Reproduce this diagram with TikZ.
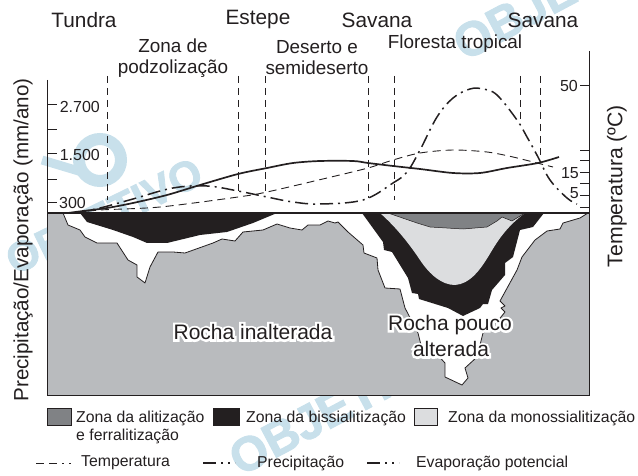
\documentclass[tikz,border=0pt]{standalone}
\usepackage{fontspec}
\setmainfont{Liberation Sans}
\newfontface\halofont[FakeBold=22]{Liberation Sans}
\newfontface\wmfont[FakeBold=2]{Liberation Sans Bold}
\definecolor{ink}{HTML}{231F20}
\definecolor{rock}{HTML}{B9BBBE}
\definecolor{lightz}{HTML}{DCDDDF}
\definecolor{darkz}{HTML}{808285}
\definecolor{wmark}{HTML}{C8E0EB}
\tikzset{
  lab/.style={text=ink,inner sep=0pt,font=\fontsize{20.8}{22}\selectfont},
  sublab/.style={text=ink,inner sep=0pt,align=center,font=\fontsize{18.9}{21}\selectfont},
  ticklab/.style={text=ink,inner sep=0pt,font=\fontsize{16}{18}\selectfont},
  leglab/.style={text=ink,inner sep=0pt,anchor=west,align=left,font=\fontsize{15.8}{18}\selectfont},
  axislab/.style={text=ink,inner sep=0pt,rotate=90,font=\fontsize{20.6}{22}\selectfont},
  axislabb/.style={text=ink,inner sep=0pt,rotate=90,font=\fontsize{21.2}{22}\selectfont},
  rocklab/.style={text=ink,inner sep=0pt,font=\fontsize{21}{26}\selectfont},
  rockhalo/.style={text=white,inner sep=0pt,font=\fontsize{21}{26}\selectfont\halofont},
  zonebound/.style={draw=ink,line width=0.8pt,line join=round},
  zoneline/.style={dash pattern=on 7pt off 5pt,draw=ink,line width=0.9pt},
  tempcurve/.style={dash pattern=on 8pt off 5pt,draw=ink,line width=0.9pt},
  raincurve/.style={dash pattern=on 13pt off 5pt on 2pt off 5pt,draw=ink,line width=1.5pt},
  solidcurve/.style={draw=ink,line width=1.7pt},
  tick/.style={draw=ink,line width=1pt},
  swatch/.style={draw=ink,line width=0.6pt,minimum height=17pt,inner sep=0pt},
  wm/.style={text=wmark,inner sep=0pt,rotate=28,font=\fontsize{48}{48}\wmfont},
  wmsmall/.style={text=wmark,inner sep=0pt,rotate=26,font=\fontsize{42}{42}\wmfont},
}
\begin{document}
\begin{tikzpicture}[x=1pt,y=-1pt]
\useasboundingbox (0,0) rectangle (638,476);
\clip (0,0) rectangle (638,476);
% watermarks
\node[wm] (wmtop) at (564,-10) {OBJETIVO};
\node[wmsmall] (wmmid) at (104,216) {OBJETIVO};
\node[wm] (wmbot) at (340,405) {OBJETIVO};
\draw[wmark,line width=12pt] (100,160) circle (21);
\draw[wmark,line width=9pt] (42,160) -- (82,172);
% ground
\fill[rock,draw=ink,line width=1pt] (47,213) rectangle (589,395);
\fill[white] (63,213) -- (68,225) -- (80,230) -- (85,237) -- (97,243) -- (117,243) -- (128,260) -- (137,265) -- (137,277) -- (145,283) -- (150,267) -- (158,252) -- (173,252) -- (185,253) -- (213,243) -- (222,239) -- (235,241) -- (243,232) -- (263,230) -- (277,224) -- (290,228) -- (302,230) -- (308,225) -- (320,225) -- (328,221) -- (335,223) -- (338,222) -- (348,232) -- (363,245) -- (364,253) -- (377,258) -- (378,270) -- (385,288) -- (400,289) -- (405,308) -- (418,333) -- (421,345) -- (433,350) -- (445,363) -- (445,377) -- (462,385) -- (468,378) -- (465,368) -- (477,357) -- (483,333) -- (497,322) -- (505,312) -- (501,308) -- (505,306) -- (500,301) -- (517,270) -- (522,257) -- (535,240) -- (547,231) -- (560,229) -- (563,223) -- (580,218) -- (588,213) -- cycle;
\draw[zonebound] (63,213) -- (68,225) -- (80,230) -- (85,237) -- (97,243) -- (117,243) -- (128,260) -- (137,265) -- (137,277) -- (145,283) -- (150,267) -- (158,252) -- (173,252) -- (185,253) -- (213,243) -- (222,239) -- (235,241) -- (243,232) -- (263,230) -- (277,224) -- (290,228) -- (302,230) -- (308,225) -- (320,225) -- (328,221) -- (335,223) -- (338,222) -- (348,232) -- (363,245) -- (364,253) -- (377,258) -- (378,270) -- (385,288) -- (400,289) -- (405,308) -- (418,333) -- (421,345) -- (433,350) -- (445,363) -- (445,377) -- (462,385) -- (468,378) -- (465,368) -- (477,357) -- (483,333) -- (497,322) -- (505,312) -- (501,308) -- (505,306) -- (500,301) -- (517,270) -- (522,257) -- (535,240) -- (547,231) -- (560,229) -- (563,223) -- (580,218) -- (588,213);
% black zones
\fill[ink] (80,213) -- (87,222) -- (113,230) -- (133,237) -- (147,243) -- (167,243) -- (200,235) -- (227,232) -- (253,223) -- (277,213) -- cycle;
\fill[ink] (362,213) -- (383,242) -- (384,250) -- (392,252) -- (408,278) -- (412,293) -- (418,294) -- (419,299) -- (448,308) -- (463,316) -- (480,308) -- (483,304) -- (488,304) -- (492,290) -- (505,275) -- (505,263) -- (513,257) -- (520,230) -- (533,227) -- (544,213) -- cycle;
\fill[lightz] (380,213) .. controls (397,228) and (410,245) .. (420,260) .. controls (430,275) and (442,285) .. (455,285) .. controls (470,284) and (480,270) .. (488,257) .. controls (497,242) and (505,228) .. (525,213) -- cycle;
\fill[darkz,draw=ink,line width=0.5pt] (388,213) -- (417,223) -- (430,227) -- (463,229) -- (487,227) -- (497,221) -- (502,217) -- (512,221) -- (525,213) -- cycle;
\draw[ink,line width=1.2pt] (47,213) -- (589,213);
% axes
\draw[tick] (47,80) -- (47,213);
\draw[tick] (589,51) -- (589,213);
\foreach \yy in {105,130,154,180,203} \draw[tick] (47,\yy) -- (57,\yy);
\foreach \yy in {86,151,161,173,184,196,208} \draw[tick] (580,\yy) -- (589,\yy);
% zone separators
\draw[zoneline] (107,76) -- (107,200);
\draw[zoneline] (238,76) -- (238,192);
\draw[zoneline] (265,76) -- (265,192);
\draw[zoneline] (368,76) -- (368,198);
\draw[zoneline] (394,76) -- (394,200);
\draw[zoneline] (520,76) -- (520,120);
\draw[zoneline] (540,76) -- (540,155);
% curves
\draw[tempcurve] plot[smooth] coordinates {(75,213) (100,210) (160,207) (238,197) (267,192) (327,178) (368,168) (393,160) (420,153) (453,150) (487,152) (513,157) (537,163) (553,167)};
\draw[raincurve] plot[smooth,tension=0.6] coordinates {(75,213) (100,208) (133,199) (173,188) (207,186) (238,191) (267,197) (293,202) (320,204) (363,200) (393,183) (407,172) (420,150) (437,117) (453,98) (470,89) (483,89) (497,95) (517,120) (527,137) (538,157) (550,180) (567,198) (577,204)};
\draw[solidcurve] plot[smooth] coordinates {(68,213) (83,211) (107,208) (133,203) (167,195) (200,185) (238,174) (267,168) (293,163) (320,161) (353,161) (368,163) (393,166) (420,169) (453,173) (480,173) (507,168) (538,163) (559,157)};
% headings
\node[lab] (tundra) at (84,20) {Tundra};
\node[lab] (estepe) at (258,20) {Estepe};
\node[lab] (sav1) at (377,20) {Savana};
\node[lab] (sav2) at (543,20) {Savana};
\node[sublab] (podz) at (173,58) {Zona de\\podzolização};
\node[sublab] (deserto) at (317,58) {Deserto e\\semideserto};
\node[sublab] (floresta) at (455,44) {Floresta tropical};
% ticks
\node[ticklab,anchor=east] (t2700) at (100,107) {2.700};
\node[ticklab,anchor=east] (t1500) at (100,155) {1.500};
\node[ticklab,anchor=east] (t300) at (86,203) {300};
\node[ticklab,anchor=east] (t50) at (578,86) {50};
\node[ticklab,anchor=east] (t15) at (579,173) {15};
\node[ticklab,anchor=east] (t5) at (579,193) {5};
% axis labels
\node[axislab] (leftaxis) at (23,240) {Precipitação/Evaporação (mm/ano)};
\node[axislabb] (rightaxis) at (617,186) {Temperatura (ºC)};
% rock labels
\node[rockhalo] (inalth) at (253,332) {Rocha inalterada};
\node[rockhalo] (poucoh) at (450,325) {Rocha pouco};
\node[rockhalo] (alterh) at (451,349) {alterada};
\node[rocklab] (inalt) at (253,332) {Rocha inalterada};
\node[rocklab] (pouco) at (450,325) {Rocha pouco};
\node[rocklab] (alter) at (451,349) {alterada};
% legend
\node[swatch,minimum width=24pt,fill=darkz,anchor=north west] (sw1) at (47,408) {};
\node[swatch,minimum width=26pt,fill=ink,anchor=north west] (sw2) at (213,408) {};
\node[swatch,minimum width=23pt,fill=lightz,anchor=north west] (sw3) at (414,408) {};
\node[leglab] (l1) at (76,418) {Zona da alitização};
\node[leglab] (l1b) at (76,436) {e ferralitização};
\node[leglab] (l2) at (246,418) {Zona da bissialitização};
\node[leglab] (l3) at (448,418) {Zona da monossialitização};
\coordinate (a1) at (36,463); \coordinate (a2) at (71,463);
\coordinate (b1) at (203,463); \coordinate (b2) at (235,463);
\coordinate (c1) at (367,463); \coordinate (c2) at (399,463);
\draw[draw=ink,line width=1pt,dash pattern=on 8pt off 5pt on 8pt off 5pt on 2pt off 5pt] (a1) -- (a2);
\draw[draw=ink,line width=1.5pt,dash pattern=on 13pt off 5pt on 2pt off 5pt on 2pt off 5pt] (b1) -- (b2);
\draw[draw=ink,line width=1.5pt,dash pattern=on 13pt off 5pt on 2pt off 5pt on 2pt off 5pt] (c1) -- (c2);
\node[leglab] (l4) at (81,463) {Temperatura};
\node[leglab] (l5) at (257,463) {Precipitação};
\node[leglab] (l6) at (416,463) {Evaporação potencial};
\end{tikzpicture}
\end{document}
